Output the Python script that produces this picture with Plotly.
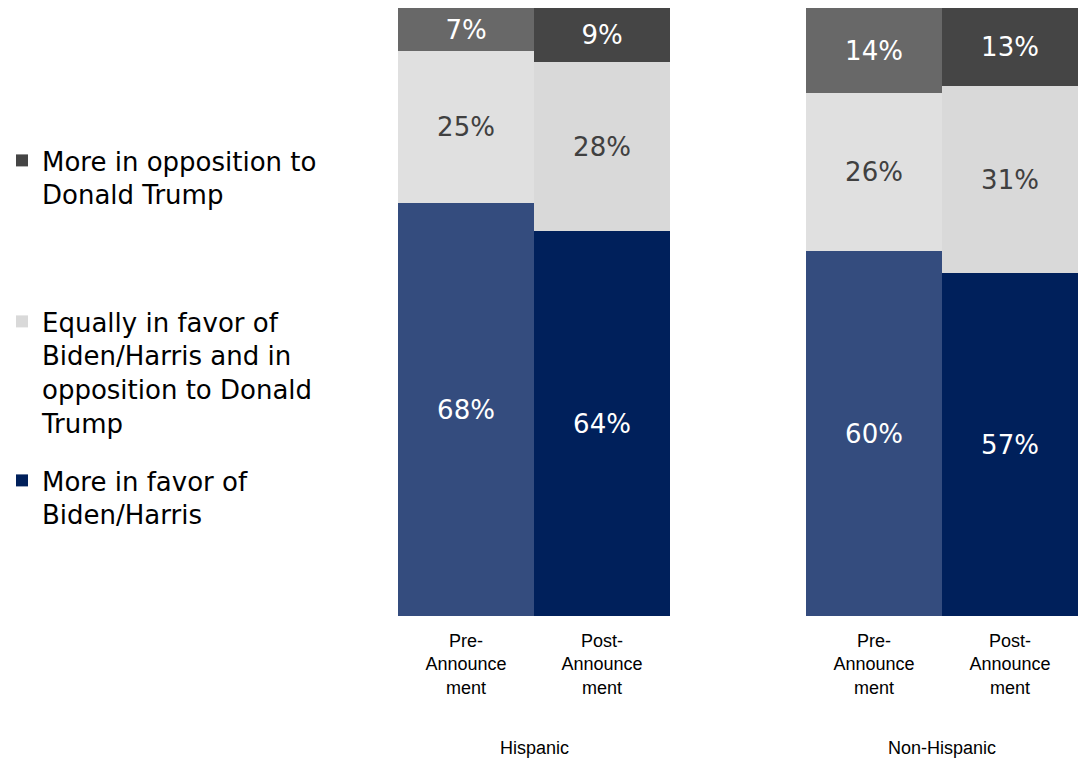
import plotly.graph_objects as go

# ---- data ----
groups = ["Hispanic", "Non-Hispanic"]
periods = ["Pre-<br>Announce<br>ment", "Post-<br>Announce<br>ment"]

series_names = [
    "More in favor of<br>Biden/Harris",
    "Equally in favor of<br>Biden/Harris and in<br>opposition to Donald<br>Trump",
    "More in opposition to<br>Donald Trump",
]
favor_pre = [68, 60]
favor_post = [64, 57]
equal_pre = [25, 26]
equal_post = [28, 31]
oppose_pre = [7, 14]
oppose_post = [9, 13]

# ---- style ----
pre_colors = ["#344C7E", "#E0E0E0", "#686868"]
post_colors = ["#00205B", "#D9D9D9", "#454545"]
text_colors = ["#FFFFFF", "#404040", "#FFFFFF"]
legend_ids = ["legend3", "legend2", "legend"]

# page body has an 8px default margin, so the figure starts at (8, 8)
OFF = 8
W, H = 1087 - OFF, 763 - OFF
PLOT_TOP, PLOT_BOTTOM = 8 - OFF, 616 - OFF
X_LEFT, X_RIGHT = 398 - OFF, 1078 - OFF
PH = PLOT_BOTTOM - PLOT_TOP


def py(ypage):
    return (PLOT_BOTTOM - (ypage - OFF)) / PH


pre_vals = [favor_pre, equal_pre, oppose_pre]
post_vals = [favor_post, equal_post, oppose_post]

pre_x = [g * 3 + 0 for g in range(len(groups))]
post_x = [g * 3 + 1 for g in range(len(groups))]

fig = go.Figure()
label_font = "DejaVu Sans, Liberation Sans, Arial, sans-serif"

for i, name in enumerate(series_names):
    fig.add_trace(go.Bar(
        x=pre_x, y=pre_vals[i], name=name, width=1,
        marker=dict(color=pre_colors[i], line=dict(width=0)),
        text=[f"{v}%" for v in pre_vals[i]],
        textposition="inside", insidetextanchor="middle", textangle=0,
        constraintext="none",
        textfont=dict(color=text_colors[i], size=26, family=label_font),
        showlegend=False, hoverinfo="skip",
    ))
    fig.add_trace(go.Bar(
        x=post_x, y=post_vals[i], name=name, width=1,
        marker=dict(color=post_colors[i], line=dict(width=0)),
        text=[f"{v}%" for v in post_vals[i]],
        textposition="inside", insidetextanchor="middle", textangle=0,
        constraintext="none",
        textfont=dict(color=text_colors[i], size=26, family=label_font),
        showlegend=True, legend=legend_ids[i], hoverinfo="skip",
    ))

legend_common = dict(
    xref="paper", yref="paper", x=-6 / W, xanchor="left", yanchor="top",
    font=dict(size=26, color="#000000", family=label_font),
    bgcolor="rgba(0,0,0,0)", valign="top", itemclick=False,
)
fig.update_layout(
    legend=dict(y=py(137), **legend_common),
    legend2=dict(y=py(298), **legend_common),
    legend3=dict(y=py(457), **legend_common),
)

tick_font = "Liberation Sans, Arial, sans-serif"
fig.update_layout(
    width=W, height=H,
    margin=dict(l=0, r=0, t=PLOT_TOP, b=H - PLOT_BOTTOM, pad=0, autoexpand=False),
    barmode="stack", barnorm="percent", bargap=0,
    plot_bgcolor="white", paper_bgcolor="white",
    xaxis=dict(
        domain=[X_LEFT / W, X_RIGHT / W], range=[-0.5, 4.5],
        tickmode="array", tickvals=pre_x + post_x,
        ticktext=[periods[0]] * len(groups) + [periods[1]] * len(groups),
        showgrid=False, zeroline=False, showline=False, ticks="",
        tickfont=dict(size=18, color="#000000", family=tick_font),
        ticklabelstandoff=12, automargin=False,
    ),
    yaxis=dict(range=[0, 100], visible=False, fixedrange=True, automargin=False),
    showlegend=True,
)

for g, gname in enumerate(groups):
    fig.add_annotation(
        x=g * 3 + 0.5, xref="x", y=py(748),
        yref="paper", text=gname, showarrow=False, yanchor="middle",
        font=dict(size=18, color="#000000", family=tick_font),
    )

fig.write_html("out.html")
